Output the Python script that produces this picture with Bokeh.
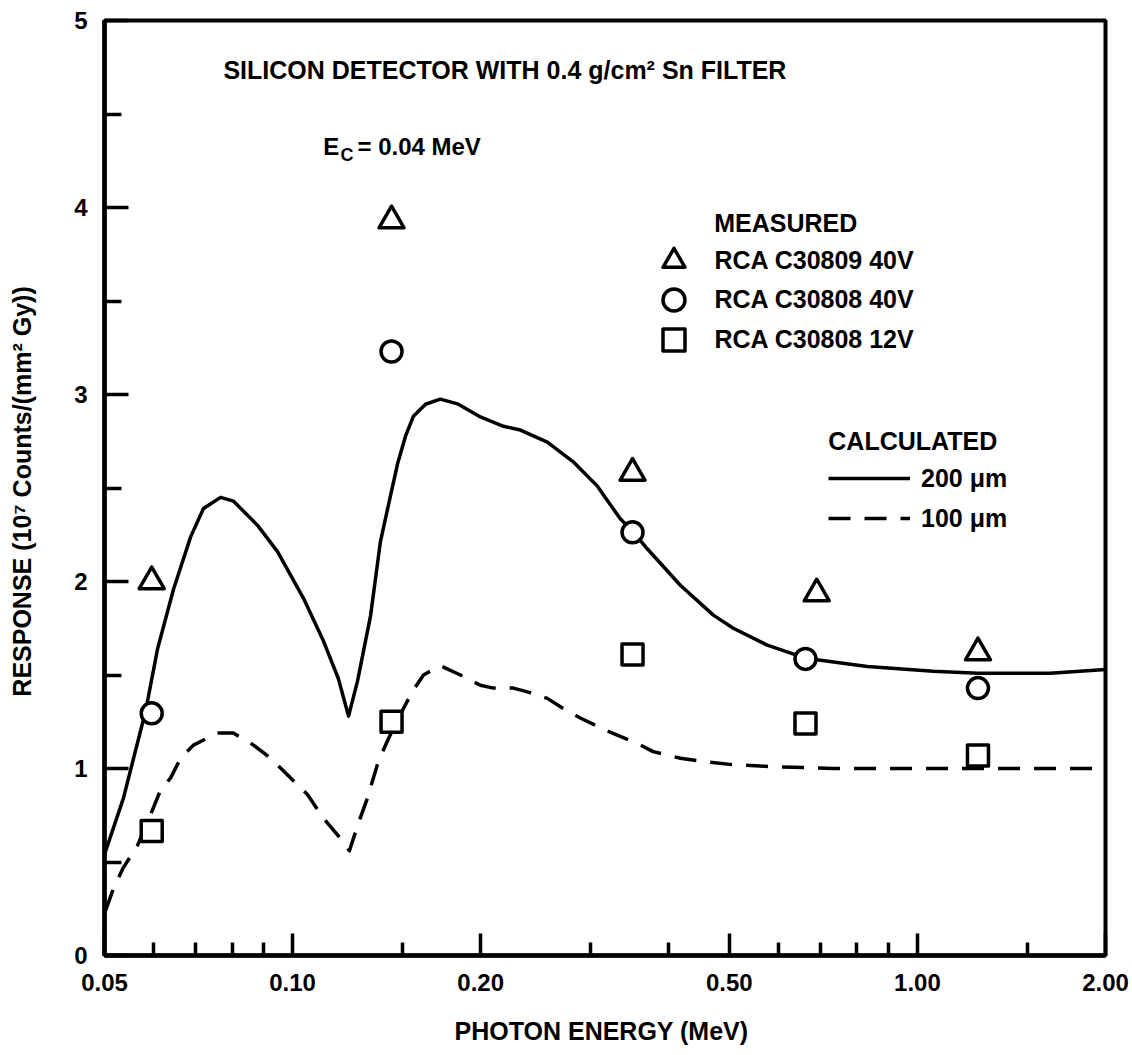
from bokeh.plotting import figure
from bokeh.models import Range1d, FixedTicker, PrintfTickFormatter, Legend, LegendItem, Label
from bokeh.embed import file_html
from bokeh.resources import INLINE

# ---------------- data ----------------
# measured points (photon energy in MeV, response in 1e7 counts/(mm^2 Gy))
tri_energy = [0.0595, 0.144, 0.35, 0.69, 1.25]
tri_resp = [2.00, 3.93, 2.58, 1.935, 1.62]          # RCA C30809 40V

circ_energy = [0.0595, 0.144, 0.35, 0.662, 1.25]
circ_resp = [1.295, 3.23, 2.263, 1.586, 1.43]       # RCA C30808 40V

sq_energy = [0.0595, 0.144, 0.35, 0.662, 1.25]
sq_resp = [0.666, 1.25, 1.61, 1.24, 1.07]           # RCA C30808 12V

# calculated, 200 um
calc200_energy = [0.05, 0.0536, 0.0582, 0.0608, 0.0645, 0.0687, 0.0720, 0.0767, 0.0804,
                  0.0879, 0.0946, 0.1041, 0.1121, 0.1184, 0.1229, 0.1270, 0.1333, 0.1382,
                  0.1434, 0.1472, 0.1516, 0.1561, 0.1632, 0.1724, 0.1836, 0.1998,
                  0.2175, 0.2315, 0.2557, 0.2813, 0.3075, 0.3345, 0.35, 0.3695, 0.4174,
                  0.4714, 0.5074, 0.575, 0.662, 0.8316, 1.06, 1.25, 1.631, 2.0]
calc200_resp = [0.54, 0.84, 1.31, 1.64, 1.96, 2.24, 2.39, 2.45, 2.43,
                2.30, 2.16, 1.91, 1.68, 1.48, 1.28, 1.466, 1.818, 2.212,
                2.457, 2.628, 2.777, 2.884, 2.948, 2.975, 2.95, 2.88,
                2.83, 2.81, 2.745, 2.64, 2.51, 2.335, 2.27, 2.175, 1.98,
                1.82, 1.75, 1.66, 1.59, 1.545, 1.52, 1.51, 1.51, 1.53]

# calculated, 100 um
calc100_energy = [0.0502, 0.0517, 0.0536, 0.0565, 0.0592, 0.0614, 0.0638, 0.0662, 0.0694,
                  0.0758, 0.0804, 0.0866, 0.0922, 0.0992, 0.1057, 0.1120, 0.1180, 0.1233,
                  0.1275, 0.1317, 0.1372, 0.1424, 0.1504, 0.1561, 0.1620, 0.1724, 0.1856,
                  0.1998, 0.2096, 0.2256, 0.2376, 0.2557, 0.2712, 0.2887, 0.3190, 0.3560,
                  0.3777, 0.4174, 0.4490, 0.5074, 0.5880, 0.7330, 1.06, 1.53, 2.0]
calc100_resp = [0.24, 0.36, 0.47, 0.59, 0.75, 0.88, 0.95, 1.055, 1.125,
                1.19, 1.19, 1.125, 1.055, 0.95, 0.86, 0.735, 0.645, 0.56,
                0.71, 0.84, 1.04, 1.16, 1.32, 1.42, 1.50, 1.55, 1.50,
                1.445, 1.43, 1.43, 1.41, 1.375, 1.32, 1.27, 1.20, 1.135,
                1.09, 1.055, 1.04, 1.02, 1.01, 1.00, 1.00, 1.00, 1.00]

x_major_ticks = [0.05, 0.1, 0.2, 0.5, 1.0, 2.0]
x_minor_ticks = [0.06, 0.07, 0.08, 0.09, 0.15, 0.3, 0.4, 0.6, 0.7, 0.8, 0.9, 1.5]
y_major_ticks = [0, 1, 2, 3, 4, 5]
y_minor_ticks = [0.5, 1.5, 2.5, 3.5, 4.5]

title_text = "SILICON DETECTOR WITH 0.4 g/cm² Sn FILTER"
x_label = "PHOTON ENERGY  (MeV)"
y_label = "RESPONSE  (10⁷ Counts/(mm² Gy))"
measured_labels = ["RCA C30809 40V", "RCA C30808 40V", "RCA C30808 12V"]
calc_labels = ["200 μm", "100 μm"]

# ---------------- styling ----------------
FONT = "Liberation Sans"
TXT = "25px"
LW = 3.5

p = figure(width=1130, height=1047, x_axis_type="log",
           x_range=Range1d(0.05, 2.0), y_range=Range1d(0, 5),
           output_backend="svg", toolbar_location=None,
           min_border_left=104, min_border_right=25, min_border_top=20, min_border_bottom=89)

p.grid.visible = False
p.outline_line_color = "black"
p.outline_line_width = 4
p.background_fill_color = "white"
p.border_fill_color = "white"

# x axis
p.xaxis.ticker = FixedTicker(ticks=x_major_ticks, minor_ticks=x_minor_ticks)
p.xaxis.formatter = PrintfTickFormatter(format="%.2f")
p.xaxis.major_tick_in = 22
p.xaxis.major_tick_out = 0
p.xaxis.minor_tick_in = 13
p.xaxis.minor_tick_out = 0
p.xaxis.major_label_standoff = 18
p.xaxis.axis_label = x_label
p.xaxis.axis_label_standoff = 23

# y axis
p.yaxis.ticker = FixedTicker(ticks=y_major_ticks, minor_ticks=y_minor_ticks)
p.yaxis.major_tick_in = 24
p.yaxis.major_tick_out = 0
p.yaxis.minor_tick_in = 17
p.yaxis.minor_tick_out = 0
p.yaxis.major_label_standoff = 17
p.yaxis.axis_label = y_label
p.yaxis.axis_label_standoff = 35

for ax in (p.xaxis, p.yaxis):
    ax.axis_line_width = 4.5
    ax.axis_line_color = "black"
    ax.major_tick_line_width = LW
    ax.minor_tick_line_width = LW
    ax.major_tick_line_color = "black"
    ax.minor_tick_line_color = "black"
    ax.major_label_text_font = FONT
    ax.major_label_text_font_size = "24px"
    ax.major_label_text_font_style = "bold"
    ax.major_label_text_color = "black"
    ax.axis_label_text_font = FONT
    ax.axis_label_text_font_size = TXT
    ax.axis_label_text_font_style = "bold"
    ax.axis_label_text_color = "black"

# curves
r200 = p.line(calc200_energy, calc200_resp, line_color="black", line_width=LW, line_join="round")
r100 = p.line(calc100_energy, calc100_resp, line_color="black", line_width=LW,
              line_dash="22 14", line_join="round")

# measured points
mk = dict(line_color="black", line_width=LW, fill_color="white", line_join="round")
r_tri = p.scatter(tri_energy, tri_resp, marker="triangle", size=25, **mk)
r_circ = p.scatter(circ_energy, circ_resp, marker="circle", size=21, **mk)
r_sq = p.scatter(sq_energy, sq_resp, marker="square", size=21, **mk)

# legends (one Legend per measured entry so that rows can sit closer than the glyph box)
leg_common = dict(padding=0, margin=0, border_line_alpha=0, background_fill_alpha=0,
                  label_text_font=FONT, label_text_font_size=TXT,
                  label_text_font_style="bold", label_text_color="black")
for lbl, rend, ybot in zip(measured_labels, [r_tri, r_circ, r_sq], [667.5, 628.5, 588.5]):
    p.add_layout(Legend(items=[LegendItem(label=lbl, renderers=[rend])],
                        location=(541.5, ybot), glyph_width=55, glyph_height=55,
                        spacing=0, label_standoff=14, **leg_common))
p.add_layout(Legend(items=[LegendItem(label=calc_labels[0], renderers=[r200]),
                           LegendItem(label=calc_labels[1], renderers=[r100])],
                    location=(724, 417), glyph_width=82, glyph_height=40,
                    spacing=0, label_standoff=11, **leg_common))

# text annotations
lab = dict(text_font=FONT, text_font_style="bold", text_color="black",
           text_baseline="middle", text_align="left")
p.add_layout(Label(x=0.0775, y=4.733, text=title_text, text_font_size=TXT, **lab))
p.add_layout(Label(x=0.1120, y=4.328, text="E", text_font_size="24px", **lab))
p.add_layout(Label(x=0.1193, y=4.280, text="C", text_font_size="18px", **lab))
p.add_layout(Label(x=0.1270, y=4.328, text="= 0.04 MeV", text_font_size="24px", **lab))
p.add_layout(Label(x=0.473, y=3.918, text="MEASURED", text_font_size=TXT, **lab))
p.add_layout(Label(x=0.72, y=2.75, text="CALCULATED", text_font_size=TXT, **lab))

open("out.html", "w").write(file_html(p, INLINE))
